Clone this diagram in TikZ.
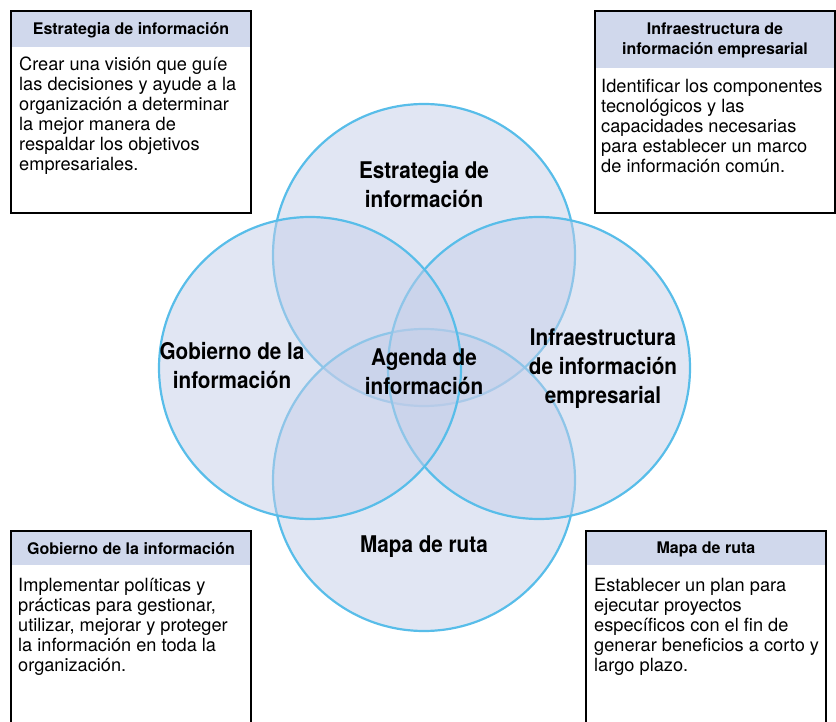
\documentclass[tikz,border=0pt]{standalone}
\usepackage{fontspec}
\setmainfont{TeX Gyre Heros}
\newfontfamily\ringfont{TeX Gyre Heros}[FakeStretch=0.9]
\usepackage{tikz}

\definecolor{ringblue}{RGB}{88,189,233}
\definecolor{ringfill}{RGB}{196,206,232}
\definecolor{headfill}{RGB}{208,216,236}

\begin{document}
\begin{tikzpicture}[x=1pt,y=-1pt,
	ring/.style={draw=ringblue,line width=2.2pt,fill=ringfill,fill opacity=.5},
	ringlabel/.style={font=\ringfont\bfseries\fontsize{23}{29}\selectfont,align=center},
	infobox/.style={draw=black,line width=1.6pt},
	boxhead/.style={font=\bfseries\fontsize{16}{20}\selectfont,align=center,inner sep=0pt},
	boxtext/.style={font=\fontsize{18.2}{20}\selectfont,align=left,anchor=base west,inner sep=0pt}]

	\useasboundingbox (0,0) rectangle (836,722);
	\clip (0,0) rectangle (836,722);

	% the four rings, drawn so that later fills soften earlier strokes
	\draw[ring] (424,255) circle (151pt);
	\draw[ring] (424,480) circle (151pt);
	\draw[ring] (539,368) circle (151pt);
	\draw[ring] (310,368) circle (151pt);

	\node[ringlabel] (estrategia) at (424,185) {Estrategia de\\información};
	\node[ringlabel] (gobierno) at (232,366) {Gobierno de la\\información};
	\node[ringlabel] (agenda) at (424,372) {Agenda de\\información};
	\node[ringlabel] (infra) at (603,369) {Infraestructura\\de información\\empresarial};
	\node[ringlabel] (mapa) at (424,547) {Mapa de ruta};

	% corner boxes (text placed by the baseline of its last line)
	\fill[headfill] (11,11) rectangle (251,47);
	\draw[infobox] (11,11) rectangle (251,213);
	\node[boxhead] (estrategiaHead) at (131,30) {Estrategia de información};
	\node[boxtext] (estrategiaText) at (19,171) {Crear una visión que guíe\\las decisiones y ayude a la\\organización a determinar\\la mejor manera de\\respaldar los objetivos\\empresariales.};

	\fill[headfill] (595,11) rectangle (835,68);
	\draw[infobox] (595,11) rectangle (835,213);
	\node[boxhead] (infraHead) at (715,40) {Infraestructura de\\información empresarial};
	\node[boxtext] (infraText) at (601,173) {Identificar los componentes\\tecnológicos y las\\capacidades necesarias\\para establecer un marco\\de información común.};

	\fill[headfill] (11,531) rectangle (251,565);
	\draw[infobox] (11,730) -- (11,531) -- (251,531) -- (251,730);
	\node[boxhead] (gobiernoHead) at (131,549) {Gobierno de la información};
	\node[boxtext] (gobiernoText) at (18,671) {Implementar políticas y\\prácticas para gestionar,\\utilizar, mejorar y proteger\\la información en toda la\\organización.};

	\fill[headfill] (586,531) rectangle (826,565);
	\draw[infobox] (586,730) -- (586,531) -- (826,531) -- (826,730);
	\node[boxhead] (mapaHead) at (706,549) {Mapa de ruta};
	\node[boxtext] (mapaText) at (594,671) {Establecer un plan para\\ejecutar proyectos\\específicos con el fin de\\generar beneficios a corto y\\largo plazo.};

\end{tikzpicture}
\end{document}
